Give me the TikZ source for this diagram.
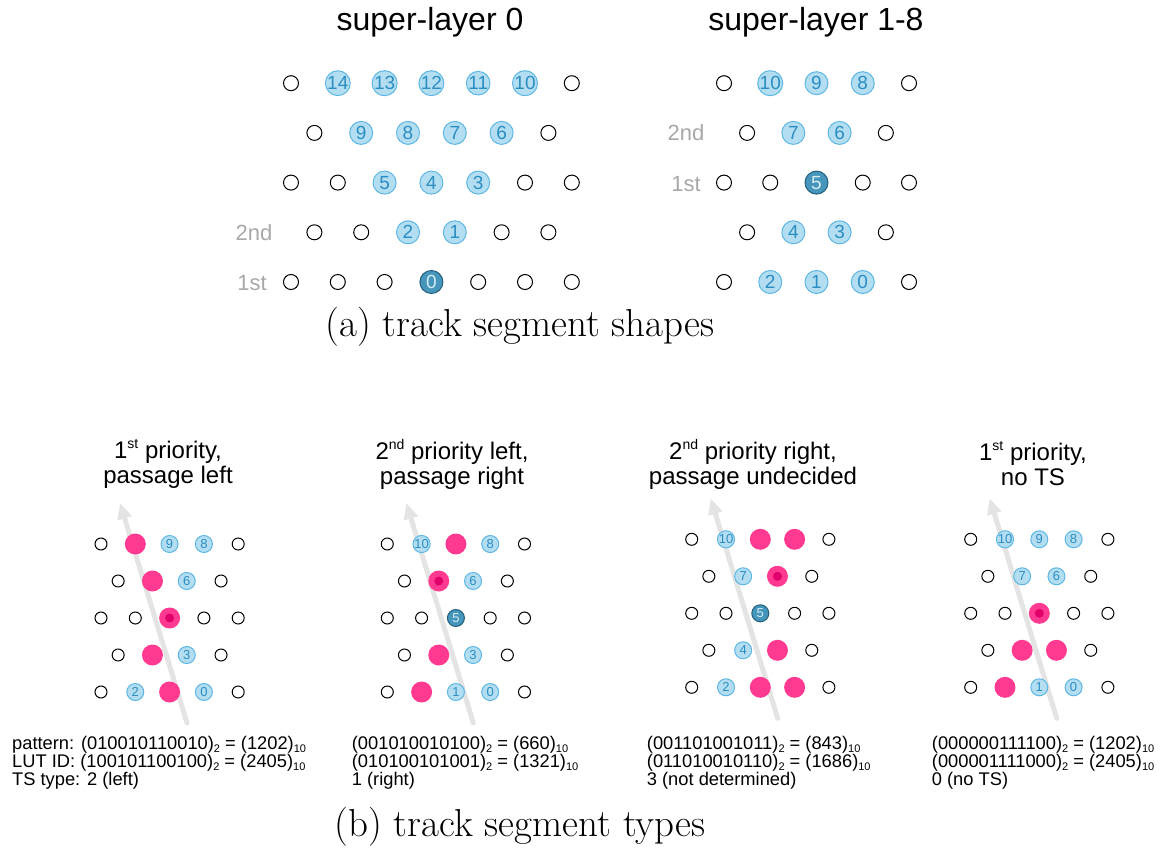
\documentclass[tikz,border=0pt]{standalone}
\usepackage{fontspec}
\newfontfamily\arial{Liberation Sans}
\usetikzlibrary{arrows.meta}

\definecolor{hitfill}{HTML}{B3DEF2}
\definecolor{hitline}{HTML}{5DB7E2}
\definecolor{hittext}{HTML}{2B8DC2}
\definecolor{seedfill}{HTML}{4696BC}
\definecolor{seedline}{HTML}{245F7C}
\definecolor{seedtext}{HTML}{D5ECF5}
\definecolor{trackpink}{HTML}{FF3A90}
\definecolor{trackcore}{HTML}{E0006B}
\definecolor{labelgray}{HTML}{A8A8A8}
\definecolor{arrowgray}{HTML}{E4E4E4}

% small indices for the number bases and ordinals
\newcommand{\bsub}[1]{\raisebox{-0.35ex}{\fontsize{11}{11}\selectfont #1}}
\newcommand{\bsup}[1]{\raisebox{0.8ex}{\fontsize{14}{14}\selectfont #1}}

\begin{document}
\begin{tikzpicture}[x=1pt,y=-1pt,
    wire/.style={circle,draw=black,fill=white,line width=1pt,inner sep=0pt,minimum size=15pt},
    hit/.style={circle,draw=hitline,fill=hitfill,text=hittext,line width=1pt,inner sep=0pt,
        minimum size=23pt,font=\arial\fontsize{19}{19}\selectfont},
    seed/.style={hit,draw=seedline,fill=seedfill,text=seedtext},
    swire/.style={wire,minimum size=12pt},
    shit/.style={hit,minimum size=17pt,font=\arial\fontsize{13}{13}\selectfont},
    sseed/.style={seed,minimum size=17pt,font=\arial\fontsize{13}{13}\selectfont},
    track/.style={circle,fill=trackpink,inner sep=0pt,minimum size=21pt},
    core/.style={track,path picture={\fill[trackcore] (path picture bounding box.center) circle (4.5pt);}},
    trackarrow/.style={draw=arrowgray,line width=5pt,line cap=round,-{Triangle[length=16pt,width=14pt]}},
    rowlabel/.style={text=labelgray,font=\arial\fontsize{22}{22}\selectfont},
    title/.style={font=\arial\fontsize{32}{32}\selectfont},
    heading/.style={align=center,font=\arial\fontsize{24}{25}\selectfont},
    info/.style={align=left,anchor=north west,inner sep=0pt,font=\arial\fontsize{18.3}{18}\selectfont},
    caption/.style={font=\fontsize{39}{42}\selectfont}]
\useasboundingbox (0,0) rectangle (1165,848);

% ---- (a) super-layer 0
\node[title] (L-title) at (430,22) {super-layer 0};
\foreach \r/\n/\x in {1/7/291,2/6/314.4,3/7/291,4/6/314.4,5/7/291}
    \foreach \c in {1,...,\n}
        \node[wire] (L-\r-\c) at ({\x+46.8*(\c-1)},{282-49.7*(\r-1)}) {};
\foreach \r/\c/\t in {5/2/14,5/3/13,5/4/12,5/5/11,5/6/10,4/2/9,4/3/8,4/4/7,4/5/6,
        3/3/5,3/4/4,3/5/3,2/3/2,2/4/1}
    \node[hit] (L-h\t) at (L-\r-\c) {\t};
\node[seed] (L-h0) at (L-1-4) {0};
\node[rowlabel] (L-2nd) at (254,233) {2nd};
\node[rowlabel] (L-1st) at (252,283) {1st};

% ---- (a) super-layer 1-8
\node[title] (R-title) at (816,22) {super-layer 1-8};
\foreach \r/\n/\x in {1/5/724,2/4/747.1,3/5/724,4/4/747.1,5/5/724}
    \foreach \c in {1,...,\n}
        \node[wire] (R-\r-\c) at ({\x+46.25*(\c-1)},{282-49.7*(\r-1)}) {};
\foreach \r/\c/\t in {5/2/10,5/3/9,5/4/8,4/2/7,4/3/6,2/2/4,2/3/3,1/2/2,1/3/1,1/4/0}
    \node[hit] (R-h\t) at (R-\r-\c) {\t};
\node[seed] (R-h5) at (R-3-3) {5};
\node[rowlabel] (R-2nd) at (686,133) {2nd};
\node[rowlabel] (R-1st) at (686,184) {1st};

\node[caption] (cap-a) at (520,327) {(a) track segment shapes};

% ---- (b) four example patterns
\foreach \p/\x/\y in {A/101/692,B/387.3/692,C/691.7/687.3,D/970.7/687.3}{
    \coordinate (\p-tail) at ({\x+86},{\y+31});
    \coordinate (\p-tip) at ({\x+19},{\y-189});
    \draw[trackarrow] (\p-tail) -- (\p-tip);
    \foreach \r/\n/\o in {1/5/0,2/4/17.15,3/5/0,4/4/17.15,5/5/0}
        \foreach \c in {1,...,\n}
            \node[swire] (\p-\r-\c) at ({\x+\o+34.3*(\c-1)},{\y-37*(\r-1)}) {};
}

% passage left
\foreach \r/\c/\t in {5/3/9,5/4/8,4/3/6,2/3/3,1/2/2,1/4/0}
    \node[shit] (A-h\t) at (A-\r-\c) {\t};
\foreach \r/\c in {5/2,4/2,2/2,1/3}
    \node[track] (A-t\r) at (A-\r-\c) {};
\node[core] (A-t3) at (A-3-3) {};

% passage right
\foreach \r/\c/\t in {5/2/10,5/4/8,4/3/6,2/3/3,1/3/1,1/4/0}
    \node[shit] (B-h\t) at (B-\r-\c) {\t};
\node[sseed] (B-h5) at (B-3-3) {5};
\foreach \r/\c in {5/3,2/2,1/2}
    \node[track] (B-t\r) at (B-\r-\c) {};
\node[core] (B-t4) at (B-4-2) {};

% passage undecided
\foreach \r/\c/\t in {5/2/10,4/2/7,2/2/4,1/2/2}
    \node[shit] (C-h\t) at (C-\r-\c) {\t};
\node[sseed] (C-h5) at (C-3-3) {5};
\foreach \r/\c in {5/3,5/4,2/3,1/3,1/4}
    \node[track] (C-t\r\c) at (C-\r-\c) {};
\node[core] (C-t43) at (C-4-3) {};

% no track segment
\foreach \r/\c/\t in {5/2/10,5/3/9,5/4/8,4/2/7,4/3/6,1/3/1,1/4/0}
    \node[shit] (D-h\t) at (D-\r-\c) {\t};
\foreach \r/\c in {2/2,2/3,1/2}
    \node[track] (D-t\r\c) at (D-\r-\c) {};
\node[core] (D-t33) at (D-3-3) {};

\node[heading] (A-title) at (168,464) {1\bsup{st} priority,\\passage left};
\node[heading] (B-title) at (452,464) {2\bsup{nd} priority left,\\passage right};
\node[heading] (C-title) at (753,464) {2\bsup{nd} priority right,\\passage undecided};
\node[heading] (D-title) at (1033,464) {1\bsup{st} priority,\\no TS};

\node[info] (A-info) at (12,736) {pattern: (010010110010)\bsub{2} = (1202)\bsub{10}\\
    LUT ID: (100101100100)\bsub{2} = (2405)\bsub{10}\\TS type: 2 (left)};
\node[info] (B-info) at (351.7,736) {(001010010100)\bsub{2} = (660)\bsub{10}\\
    (010100101001)\bsub{2} = (1321)\bsub{10}\\1 (right)};
\node[info] (C-info) at (646.7,736) {(001101001011)\bsub{2} = (843)\bsub{10}\\
    (011010010110)\bsub{2} = (1686)\bsub{10}\\3 (not determined)};
\node[info] (D-info) at (931.7,736) {(000000111100)\bsub{2} = (1202)\bsub{10}\\
    (000001111000)\bsub{2} = (2405)\bsub{10}\\0 (no TS)};

\node[caption] (cap-b) at (520,827) {(b) track segment types};
\end{tikzpicture}
\end{document}
